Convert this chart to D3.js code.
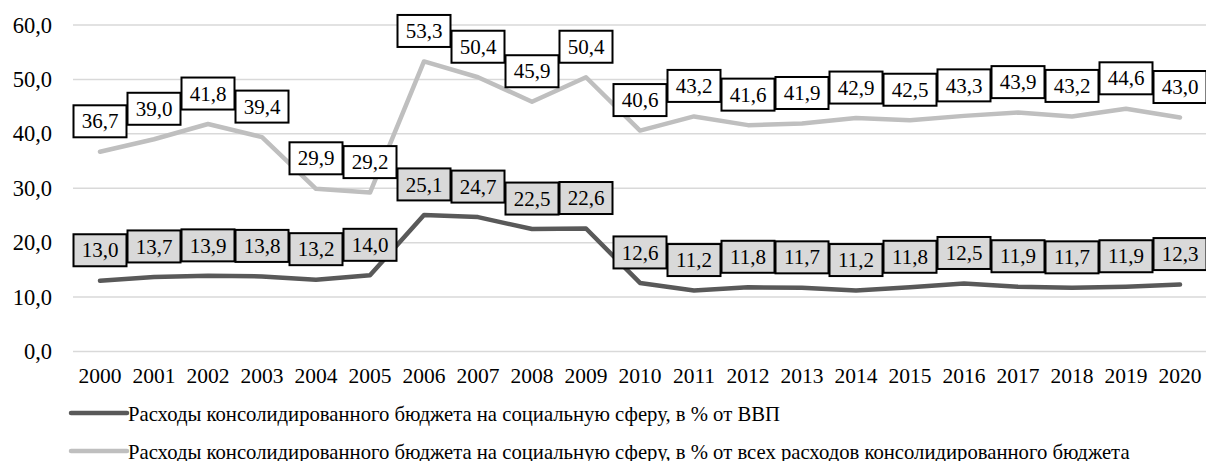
<!DOCTYPE html>
<html lang="ru">
<head>
<meta charset="UTF-8">
<title>Расходы консолидированного бюджета</title>
<style>
  body { margin: 0; background: #fff; }
  svg text { font-family: "Liberation Serif", "Times New Roman", "DejaVu Serif", serif; fill: #000; }
</style>
</head>
<body>
<svg width="1206" height="461"></svg>
<script src="https://d3js.org/d3.v7.min.js"></script>
<script>
const years = ["2000","2001","2002","2003","2004","2005","2006","2007","2008","2009","2010",
               "2011","2012","2013","2014","2015","2016","2017","2018","2019","2020"];
const gdpShare = [13.0,13.7,13.9,13.8,13.2,14.0,25.1,24.7,22.5,22.6,12.6,
                  11.2,11.8,11.7,11.2,11.8,12.5,11.9,11.7,11.9,12.3];
const budgetShare = [36.7,39.0,41.8,39.4,29.9,29.2,53.3,50.4,45.9,50.4,40.6,
                     43.2,41.6,41.9,42.9,42.5,43.3,43.9,43.2,44.6,43.0];
const yTicks = [0,10,20,30,40,50,60];
const seriesNames = [
  "Расходы консолидированного бюджета на социальную сферу, в % от ВВП",
  "Расходы консолидированного бюджета на социальную сферу, в % от всех расходов консолидированного бюджета"
];

const svg = d3.select("svg");
const fmt = v => v.toFixed(1).replace(".", ",");

const x = d3.scaleBand().domain(years).range([73, 1207]);
const y = d3.scaleLinear().domain([0, 60]).range([351.5, 25]);
const cx = d => x(d) + x.bandwidth() / 2;

const series = [
  { name: seriesNames[0], values: gdpShare, color: "#595959", fill: "#d9d9d9" },
  { name: seriesNames[1], values: budgetShare, color: "#bfbfbf", fill: "#ffffff" }
];

// grid
svg.append("g").selectAll("line").data(yTicks).join("line")
  .attr("x1", 73).attr("x2", 1206)
  .attr("y1", d => y(d)).attr("y2", d => y(d))
  .attr("stroke", "#d9d9d9").attr("stroke-width", 1.5);

// y labels
svg.append("g").selectAll("text").data(yTicks).join("text")
  .attr("x", 52).attr("y", d => y(d)).attr("dy", "0.34em")
  .attr("text-anchor", "end").attr("font-size", 22.5)
  .text(fmt);

// x labels
svg.append("g").selectAll("text").data(years).join("text")
  .attr("x", d => cx(d)).attr("y", 383)
  .attr("text-anchor", "middle").attr("font-size", 21.5)
  .text(d => d);

// lines
const line = d3.line().x((d, i) => cx(years[i])).y(d => y(d));
series.forEach(s => {
  svg.append("path").datum(s.values)
    .attr("fill", "none").attr("stroke", s.color).attr("stroke-width", 4.5)
    .attr("stroke-linejoin", "round").attr("stroke-linecap", "round")
    .attr("d", line);
});

// data labels
series.forEach(s => {
  const g = svg.append("g").selectAll("g").data(s.values).join("g")
    .attr("transform", (d, i) => `translate(${cx(years[i])},${y(d) - 30.5})`);
  g.append("rect")
    .attr("x", -26.5).attr("y", -16).attr("width", 53).attr("height", 32)
    .attr("fill", s.fill).attr("stroke", "#000").attr("stroke-width", 2);
  g.append("text")
    .attr("text-anchor", "middle").attr("dy", "0.34em")
    .attr("font-size", 21)
    .text(fmt);
});

// legend
const leg = svg.append("g").selectAll("g").data(series).join("g")
  .attr("transform", (d, i) => `translate(71,${413 + i * 38})`);
leg.append("line").attr("x1", 0).attr("x2", 56)
  .attr("stroke", d => d.color).attr("stroke-width", 4.5).attr("stroke-linecap", "round");
leg.append("text").attr("x", 57).attr("y", 7.5)
  .attr("font-size", 20.7)
  .text(d => d.name);
</script>
</body>
</html>
